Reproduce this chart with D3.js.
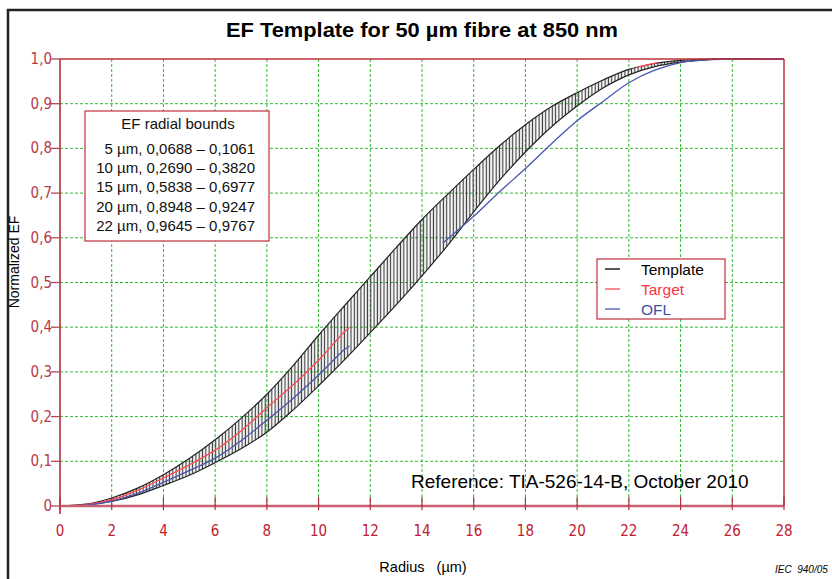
<!DOCTYPE html>
<html>
<head>
<meta charset="utf-8">
<script src="https://cdn.jsdelivr.net/npm/d3@7"></script>
<style>
  html, body { margin: 0; padding: 0; background: #fff; }
  svg { display: block; }
  text { font-family: "Liberation Sans", Arial, sans-serif; }
</style>
</head>
<body>
<svg id="chart" width="832" height="579"></svg>
<script>
// ---------------- data ----------------
const title = "EF Template for 50 µm fibre at 850 nm";
const radius = [0,1,2,3,4,5,6,7,8,9,10,11,12,13,14,15,16,17,18,19,20,21,22,23,24,25,26,27,28];
const templateLower = [0,0.002,0.010,0.025,0.046,0.0688,0.097,0.128,0.165,0.214,0.269,0.327,0.388,0.450,0.515,0.5838,0.658,0.729,0.792,0.848,0.8948,0.935,0.9645,0.983,0.993,0.998,1,1,1];
const templateUpper = [0,0.004,0.018,0.040,0.070,0.1061,0.148,0.196,0.250,0.313,0.382,0.448,0.513,0.578,0.641,0.6977,0.753,0.806,0.853,0.893,0.9247,0.953,0.9767,0.990,0.997,1,1,1,1];
const targetRadius1 = [0,1,2,3,4,5,6,7,8,9,10,11,11.2];
const targetValue1 = [0,0.003,0.014,0.035,0.063,0.092,0.125,0.168,0.220,0.270,0.326,0.390,0.400];
const targetRadius2 = [22.3,22.7,23.1];
const targetValue2 = [0.981,0.987,0.992];
const oflRadius1 = [0,1,2,3,4,5,6,7,8,9,10,11,11.2];
const oflValue1 = [0,0.002,0.011,0.028,0.053,0.079,0.107,0.146,0.192,0.240,0.293,0.350,0.358];
const oflRadius2 = [14.8,15,16,17,18,19,20,21,22,23,24,25,26,27,28];
const oflValue2 = [0.588,0.598,0.648,0.703,0.755,0.810,0.862,0.905,0.947,0.975,0.992,0.998,1,1,1];
const xTicks = [0,2,4,6,8,10,12,14,16,18,20,22,24,26,28];
const yTicks = [0,0.1,0.2,0.3,0.4,0.5,0.6,0.7,0.8,0.9,1.0];
const yTickLabels = ["0","0,1","0,2","0,3","0,4","0,5","0,6","0,7","0,8","0,9","1,0"];
const boundsTitle = "EF radial bounds";
const boundsLines = ["5 µm, 0,0688 – 0,1061","10 µm, 0,2690 – 0,3820","15 µm, 0,5838 – 0,6977","20 µm, 0,8948 – 0,9247","22 µm, 0,9645 – 0,9767"];
const legendNames = ["Template","Target","OFL"];
const legendColors = ["#000000","#ff4a55","#4a56b0"];
const legendTextColors = ["#000000","#ff3344","#3f4fa8"];
const referenceText = "Reference: TIA-526-14-B, October 2010";

// ---------------- layout ----------------
const svg = d3.select("#chart");
const L = 60, R = 784, T = 59, B = 506;
const x = d3.scaleLinear().domain([0, 28]).range([L, R]);
const y = d3.scaleLinear().domain([0, 1]).range([B, T]);
const frameRed = "#c0303c";
const labelRed = "#b83a4a";
const grid = "#2fb82f";
const smooth = d3.curveCatmullRom.alpha(0.5);

// outer black frame (left + top)
svg.append("line").attr("x1", 8).attr("x2", 8).attr("y1", 9).attr("y2", 579).attr("stroke", "#222").attr("stroke-width", 2.5);
svg.append("line").attr("x1", 7).attr("x2", 832).attr("y1", 10).attr("y2", 10).attr("stroke", "#222").attr("stroke-width", 2.5);

// title
svg.append("text").attr("x", 422).attr("y", 37).attr("text-anchor", "middle")
  .attr("font-size", 21).attr("font-weight", "bold").attr("fill", "#000")
  .attr("textLength", 392).attr("lengthAdjust", "spacingAndGlyphs").text(title);

// grid
const gGrid = svg.append("g");
gGrid.selectAll("line.v").data(xTicks.filter(d => d > 0 && d < 28)).enter().append("line")
  .attr("x1", d => x(d)).attr("x2", d => x(d)).attr("y1", T).attr("y2", B)
  .attr("stroke", grid).attr("stroke-width", 1).attr("stroke-dasharray", "3,2");
gGrid.selectAll("line.h").data(yTicks.filter(d => d > 0 && d < 1)).enter().append("line")
  .attr("x1", L).attr("x2", R).attr("y1", d => y(d)).attr("y2", d => y(d))
  .attr("stroke", grid).attr("stroke-width", 1).attr("stroke-dasharray", "3,2");

// hatch pattern
const defs = svg.append("defs");
const pat = defs.append("pattern").attr("id", "hatch").attr("patternUnits", "userSpaceOnUse")
  .attr("width", 3.3).attr("height", 8);
pat.append("line").attr("x1", 1.2).attr("x2", 1.2).attr("y1", 0).attr("y2", 8)
  .attr("stroke", "#3a3a3a").attr("stroke-width", 1.2);

const bandData = radius.map((r, i) => ({ r, lo: templateLower[i], hi: templateUpper[i] }));
const area = d3.area().x(d => x(d.r)).y0(d => y(d.lo)).y1(d => y(d.hi)).curve(smooth);
svg.append("path").datum(bandData).attr("d", area).attr("fill", "url(#hatch)");
const lineLo = d3.line().x(d => x(d.r)).y(d => y(d.lo)).curve(smooth);
const lineHi = d3.line().x(d => x(d.r)).y(d => y(d.hi)).curve(smooth);
svg.append("path").datum(bandData).attr("d", lineLo).attr("fill", "none").attr("stroke", "#222").attr("stroke-width", 1.2);
svg.append("path").datum(bandData).attr("d", lineHi).attr("fill", "none").attr("stroke", "#222").attr("stroke-width", 1.2);

// target and OFL lines
const pline = d3.line().x(d => x(d[0])).y(d => y(d[1])).curve(smooth);
function drawSeries(rs, vs, color) {
  svg.append("path").datum(rs.map((r, i) => [r, vs[i]])).attr("d", pline)
    .attr("fill", "none").attr("stroke", color).attr("stroke-width", 1.3);
}
drawSeries(targetRadius1, targetValue1, legendColors[1]);
drawSeries(targetRadius2, targetValue2, legendColors[1]);
drawSeries(oflRadius1, oflValue1, legendColors[2]);
drawSeries(oflRadius2, oflValue2, legendColors[2]);

// frame
svg.append("line").attr("x1", L).attr("x2", R).attr("y1", T).attr("y2", T).attr("stroke", frameRed).attr("stroke-width", 1.3);
svg.append("line").attr("x1", R).attr("x2", R).attr("y1", T).attr("y2", B).attr("stroke", frameRed).attr("stroke-width", 1.5);
svg.append("line").attr("x1", L).attr("x2", L).attr("y1", T).attr("y2", B + 8).attr("stroke", "#a82030").attr("stroke-width", 1.5);
svg.append("line").attr("x1", L).attr("x2", R).attr("y1", B).attr("y2", B).attr("stroke", "#c86070").attr("stroke-width", 2.5);

// y axis ticks and labels
const gY = svg.append("g");
gY.selectAll("line").data(yTicks).enter().append("line")
  .attr("x1", L - 9).attr("x2", L).attr("y1", d => y(d)).attr("y2", d => y(d))
  .attr("stroke", "#b04a50").attr("stroke-width", 1.3);
gY.selectAll("text").data(yTicks).enter().append("text")
  .attr("x", L - 8).attr("y", d => y(d) + 5).attr("text-anchor", "end")
  .attr("font-size", 15).attr("fill", labelRed)
  .style("font-family", "'Liberation Sans Narrow', 'DejaVu Sans Condensed', sans-serif")
  .text((d, i) => yTickLabels[i]);

// x axis ticks and labels
const gX = svg.append("g");
gX.selectAll("line").data(xTicks).enter().append("line")
  .attr("x1", d => x(d)).attr("x2", d => x(d)).attr("y1", B - 9).attr("y2", B + 4)
  .attr("stroke", "#b03040").attr("stroke-width", 1.2);
gX.selectAll("text").data(xTicks).enter().append("text")
  .attr("x", d => x(d)).attr("y", 536).attr("text-anchor", "middle")
  .attr("font-size", 15).attr("fill", "#c02030")
  .style("font-family", "'Liberation Sans Narrow', 'DejaVu Sans Condensed', sans-serif")
  .text(d => d);

// axis titles
svg.append("text").attr("x", 423).attr("y", 572).attr("text-anchor", "middle")
  .attr("font-size", 14.5).attr("fill", "#000").attr("xml:space", "preserve")
  .style("white-space", "pre").text("Radius   (µm)");
svg.append("text").attr("transform", "translate(19,262) rotate(-90)").attr("text-anchor", "middle")
  .attr("font-size", 14).attr("fill", "#000").text("Normalized EF");

// bounds box
svg.append("rect").attr("x", 85).attr("y", 111).attr("width", 184).attr("height", 130)
  .attr("fill", "#fff").attr("stroke", frameRed).attr("stroke-width", 1.2);
svg.append("text").attr("x", 178).attr("y", 129).attr("text-anchor", "middle")
  .attr("font-size", 15).attr("fill", "#111").text(boundsTitle);
svg.selectAll("text.bl").data(boundsLines).enter().append("text")
  .attr("x", 255).attr("y", (d, i) => [154, 173, 192, 212, 231][i]).attr("text-anchor", "end")
  .attr("font-size", 15).attr("fill", "#111").text(d => d);

// legend
svg.append("rect").attr("x", 597).attr("y", 259).attr("width", 128).attr("height", 60)
  .attr("fill", "#fff").attr("stroke", frameRed).attr("stroke-width", 1.2);
legendNames.forEach((n, i) => {
  const yy = 269 + i * 20;
  svg.append("line").attr("x1", 605).attr("x2", 620).attr("y1", yy).attr("y2", yy)
    .attr("stroke", legendColors[i]).attr("stroke-width", 1.3);
  svg.append("text").attr("x", 641).attr("y", yy + 5.5).attr("font-size", 15.5)
    .attr("fill", legendTextColors[i]).text(n);
});

// reference note
svg.append("text").attr("x", 411).attr("y", 488).attr("font-size", 19).attr("fill", "#000").text(referenceText);

// IEC mark
svg.append("text").attr("x", 775).attr("y", 573).attr("font-size", 10).attr("font-style", "italic")
  .attr("fill", "#000").attr("xml:space", "preserve").style("white-space", "pre").text("IEC  940/05");
</script>
</body>
</html>
